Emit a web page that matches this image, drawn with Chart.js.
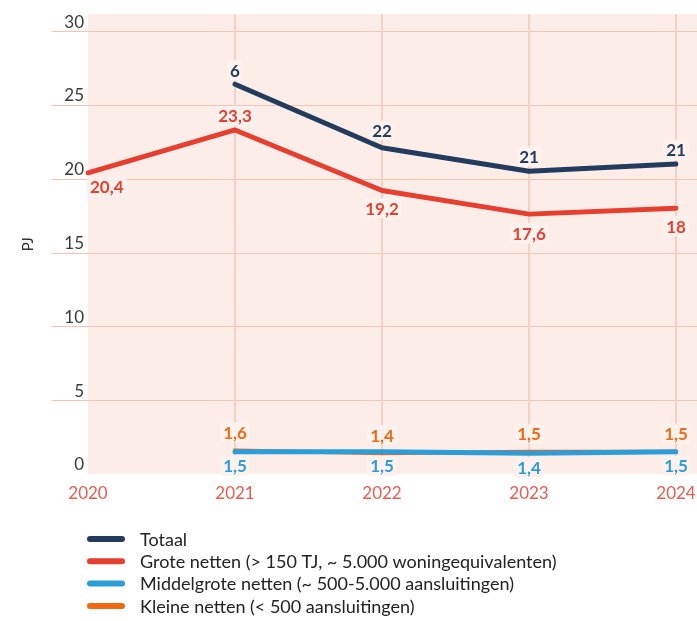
<!DOCTYPE html>
<html>
<head>
<meta charset="utf-8">
<script src="https://cdn.jsdelivr.net/npm/chart.js@4/dist/chart.umd.min.js"></script>
<style>
  html, body { margin: 0; padding: 0; background: #fff; }
</style>
</head>
<body>
<canvas id="chart" width="697" height="621"></canvas>
<script>
// === Data
const years = ["2020", "2021", "2022", "2023", "2024"];
const totaal = [null, 26.4, 22.1, 20.5, 21];
const grote = [20.4, 23.3, 19.2, 17.6, 18];
const middelgrote = [null, 1.5, 1.5, 1.4, 1.5];
const kleine = [null, 1.6, 1.4, 1.5, 1.5];
const totaalLabels = ["", "6", "22", "21", "21"];
const yTicks = [0, 5, 10, 15, 20, 25, 30];

const seriesNames = [
  "Totaal",
  "Grote netten (> 150 TJ, ~ 5.000 woningequivalenten)",
  "Middelgrote netten (~ 500-5.000 aansluitingen)",
  "Kleine netten (< 500 aansluitingen)"
];

const FONT = "Lato, 'Open Sans', sans-serif";
const PLOT_BG = "#fcede8";

const fmt = (v) => String(v).replace(".", ",");

// === Achtergrond + rasterlijnen
const bgGrid = {
  id: "bgGrid",
  beforeDraw(chart) {
    const { ctx, chartArea, scales } = chart;
    ctx.save();
    ctx.fillStyle = PLOT_BG;
    ctx.fillRect(chartArea.left, chartArea.top, chart.width - chartArea.left, chartArea.bottom - chartArea.top);

    ctx.strokeStyle = "#f6c4b0";
    ctx.lineWidth = 1;
    yTicks.forEach((v) => {
      if (v === 0) return;
      const y = Math.round(scales.y.getPixelForValue(v)) + 0.5;
      ctx.beginPath();
      ctx.moveTo(52, y);
      ctx.lineTo(chart.width, y);
      ctx.stroke();
    });

    ctx.strokeStyle = "#f8d0bf";
    ctx.lineWidth = 2;
    years.forEach((yr, i) => {
      if (i === 0) return;
      const x = scales.x.getPixelForValue(i);
      ctx.beginPath();
      ctx.moveTo(x, chartArea.top);
      ctx.lineTo(x, chartArea.bottom);
      ctx.stroke();
    });
    ctx.restore();
  }
};

// === Waardelabels
const valueLabels = {
  id: "valueLabels",
  afterDatasetsDraw(chart) {
    const { ctx, chartArea } = chart;
    ctx.save();
    ctx.font = "bold 17px " + FONT;
    ctx.textAlign = "center";
    ctx.textBaseline = "middle";
    chart.data.datasets.forEach((ds, i) => {
      const meta = chart.getDatasetMeta(i);
      meta.data.forEach((pt, j) => {
        const v = ds.data[j];
        if (v === null || v === undefined) return;
        const text = ds.labelText ? ds.labelText[j] : fmt(v);
        const w = ctx.measureText(text).width;
        let x = pt.x;
        if (x - w / 2 < chartArea.left + 2) x = chartArea.left + 2 + w / 2;
        const y = pt.y + ds.labelDy[j];
        ctx.fillStyle = "#fdf1ed";
        ctx.beginPath();
        ctx.roundRect(x - w / 2 - 3, y - 10, w + 6, 20, 4);
        ctx.fill();
        ctx.fillStyle = ds.borderColor;
        ctx.fillText(text, x, y + 1);
      });
    });
    ctx.restore();
  }
};

// === Legenda onder de grafiek
const listLegend = {
  id: "listLegend",
  afterDraw(chart) {
    const { ctx, chartArea } = chart;
    ctx.save();
    ctx.font = "18px " + FONT;
    ctx.textBaseline = "middle";
    ctx.lineCap = "round";
    chart.data.datasets.forEach((ds, i) => {
      const y = chartArea.bottom + 65 + i * 22.3;
      ctx.strokeStyle = ds.borderColor;
      ctx.lineWidth = 6;
      ctx.beginPath();
      ctx.moveTo(90, y);
      ctx.lineTo(122, y);
      ctx.stroke();
      ctx.fillStyle = "#222";
      ctx.fillText(ds.label, 140, y + 1);
    });
    ctx.restore();
  }
};

const lineStyle = {
  borderWidth: 5,
  pointRadius: 0,
  pointHoverRadius: 0,
  tension: 0,
  borderCapStyle: "round",
  borderJoinStyle: "round",
  spanGaps: false
};

new Chart(document.getElementById("chart"), {
  type: "line",
  data: {
    labels: years,
    datasets: [
      {
        ...lineStyle,
        label: seriesNames[0],
        data: totaal,
        borderColor: "#233b5d",
        labelText: totaalLabels,
        labelDy: [0, -14, -17, -15, -14]
      },
      {
        ...lineStyle,
        label: seriesNames[1],
        data: grote,
        borderColor: "#e63f30",
        labelDy: [14, -14, 18, 19, 18]
      },
      {
        ...lineStyle,
        label: seriesNames[2],
        data: middelgrote,
        borderColor: "#2b9dd9",
        labelDy: [0, 14, 14, 14, 14]
      },
      {
        ...lineStyle,
        label: seriesNames[3],
        data: kleine,
        borderColor: "#ef6a12",
        borderWidth: 4,
        labelDy: [0, -18, -18, -18, -18]
      }
    ]
  },
  options: {
    responsive: false,
    devicePixelRatio: 1,
    animation: false,
    layout: { padding: { top: 9, right: 21, bottom: 111, left: 0 } },
    plugins: {
      legend: { display: false },
      tooltip: { enabled: false }
    },
    scales: {
      x: {
        grid: { display: false, drawTicks: false },
        border: { display: false },
        ticks: {
          color: "#ec5b50",
          font: { family: FONT, size: 17 },
          padding: 9,
          maxRotation: 0,
          autoSkip: false
        },
        afterFit: (s) => {
          s.height = 36;
          s.paddingLeft = 0;
          s.paddingRight = 0;
        }
      },
      y: {
        min: 0,
        max: 31.14,
        grid: { display: false, drawTicks: false },
        border: { display: false },
        afterBuildTicks: (s) => { s.ticks = yTicks.map((v) => ({ value: v })); },
        ticks: {
          color: "#3a3a3a",
          font: { family: FONT, size: 17 },
          padding: 4,
          labelOffset: -9
        },
        title: {
          display: true,
          text: "PJ",
          color: "#333",
          font: { family: FONT, size: 15 },
          padding: { top: 19, bottom: 0 }
        },
        afterFit: (s) => { s.width = 88; }
      }
    }
  },
  plugins: [bgGrid, valueLabels, listLegend]
});
</script>
</body>
</html>
